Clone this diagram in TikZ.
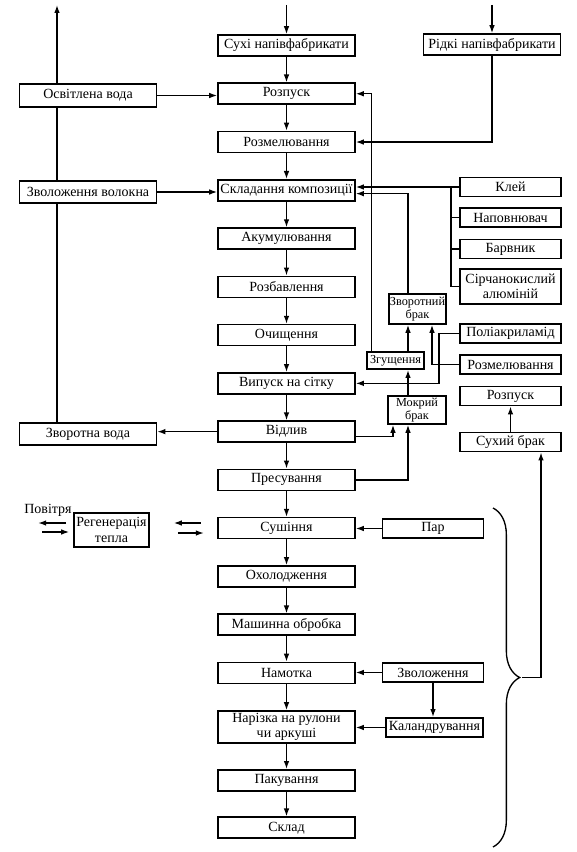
\documentclass[tikz,border=0pt]{standalone}
\usepackage{fontspec}
\setmainfont{Liberation Serif}
\usetikzlibrary{arrows.meta,positioning,calc,decorations.pathreplacing}

\begin{document}
\begin{tikzpicture}[x=0.75pt,y=-0.75pt,node distance=36.2pt,
  >={Latex[length=6pt,width=4.2pt]},
  every node/.style={font=\fontsize{10.5}{11.5}\selectfont},
  line/.style={line width=1pt},
  proc/.style={draw,line width=1.2pt,minimum width=102.75pt,minimum height=15.75pt,inner sep=1pt,align=center},
  side/.style={proc,minimum width=75.75pt,minimum height=14.5pt},
  small/.style={proc,minimum width=42.75pt,minimum height=13pt,inner sep=0.5pt,font=\fontsize{9.2}{10}\selectfont}]
  \useasboundingbox (0,0) rectangle (577,852);

  % main line
  \node[proc] (suhi) at (286.5,45.5) {Сухі напівфабрикати};
  \node[proc] (rozp) [below of=suhi] {Розпуск};
  \node[proc] (rozm) [below of=rozp] {Розмелювання};
  \node[proc] (sklad) [below of=rozm] {Складання композиції};
  \node[proc] (akum) [below of=sklad] {Акумулювання};
  \node[proc] (rozb) [below of=akum] {Розбавлення};
  \node[proc] (ochy) [below of=rozb] {Очищення};
  \node[proc] (vyp) [below of=ochy] {Випуск на сітку};
  \node[proc] (vidl) [below of=vyp] {Відлив};
  \node[proc] (pres) [below of=vidl] {Пресування};
  \node[proc] (sush) [below of=pres] {Сушіння};
  \node[proc] (ohol) [below of=sush] {Охолодження};
  \node[proc] (mash) [below of=ohol] {Машинна обробка};
  \node[proc] (namot) [below of=mash] {Намотка};
  \node[proc,minimum height=24pt] (nariz) [below of=namot,node distance=40.5pt] {Нарізка на рулони\\чи аркуші};
  \node[proc] (pakuv) [below of=nariz,node distance=40pt] {Пакування};
  \node[proc] (skl) [below of=pakuv,node distance=35.6pt] {Склад};

  % water
  \node[proc,minimum height=17pt] (osvv) at (88,95.5) {Освітлена вода};
  \node[proc,minimum height=16.5pt] (zvolv) at (88,192) {Зволоження волокна};
  \node[proc,minimum height=16.5pt] (zvorv) at (88,434) {Зворотна вода};

  % right side
  \node[proc] (ridki) at (492,44.5) {Рідкі напівфабрикати};
  \node[side] (klei) at (510.5,187) {Клей};
  \node[side] (napov) at (510.5,217.5) {Наповнювач};
  \node[side] (barv) at (510.5,249) {Барвник};
  \node[side,minimum height=26pt] (sirch) at (510.5,286.5) {Сірчанокислий\\алюміній};
  \node[side] (polia) at (510.5,333.5) {Поліакриламід};
  \node[side] (rozm2) at (510.5,364.5) {Розмелювання};
  \node[side] (rozp2) at (510.5,396) {Розпуск};
  \node[side] (suhbr) at (510.5,442) {Сухий брак};

  % broke
  \node[small,minimum height=22.5pt] (zvbr) at (417.5,309) {Зворотний\\брак};
  \node[small] (zgush) at (395.5,360.5) {Згущення};
  \node[small,minimum height=21pt,minimum width=43.5pt] (mokb) at (417,410) {Мокрий\\брак};

  \node[side] (par) at (433,528.5) {Пар};
  \node[side] (zvol) at (433,672.5) {Зволоження};
  \node[side,minimum width=72.75pt] (kal) at (434.5,727.5) {Каландрування};

  \node[proc,minimum width=56.25pt,minimum height=25.5pt] (regen) at (111.5,530) {Регенерація\\тепла};
  \node (povitr) at (48,510) {Повітря};

  \coordinate (intop) at (286.5,5);
  \coordinate (ridtop) at (492,5);
  \coordinate (wout) at (57,5);
  \coordinate (bus) at (451,0);
  \coordinate (bx) at (408,0);
  \coordinate (px) at (439,0);
  \coordinate (rx) at (432,0);
  \coordinate (mx) at (393,0);
  \coordinate (sx) at (541,0);
  \coordinate (brtop) at (493,508);
  \coordinate (brbot) at (493,847);
  \coordinate (brtip) at (522,677.5);

  \path[->,line]
  (intop) edge (suhi)
  (ridtop) edge (ridki)
  (suhi) edge (rozp)
  (rozp) edge (rozm)
  (rozm) edge (sklad)
  (sklad) edge (akum)
  (akum) edge (rozb)
  (rozb) edge (ochy)
  (ochy) edge (vyp)
  (vyp) edge (vidl)
  (vidl) edge (pres)
  (pres) edge (sush)
  (sush) edge (ohol)
  (ohol) edge (mash)
  (mash) edge (namot)
  (namot) edge (nariz)
  (nariz) edge (pakuv)
  (pakuv) edge (skl);

  % water loop
  \draw[line] (zvorv.north -| wout) -- (zvolv.south -| wout);
  \draw[line] (zvolv.north -| wout) -- (osvv.south -| wout);
  \draw[->,line] (osvv.north -| wout) -- (wout);
  \draw[->,line] (osvv) -- (osvv -| rozp.west);
  \draw[->,line] (zvolv) -- (zvolv -| sklad.west);
  \draw[->,line] (vidl) -- (vidl -| zvorv.east);

  \draw[->,line] (ridki) |- (rozm);
  \draw[->,line] ([xshift=3.75pt]zgush.north west) |- (rozp);
  \draw[->,line] (mokb.north -| bx) -- (zgush.south -| bx);
  \draw[->,line] (zgush.north -| bx) -- (zvbr.south -| bx);
  \draw[->,line] (zvbr.north -| bx) |- ([yshift=-2.5pt]sklad.east);

  % additives
  \draw[->,line] (klei) -- (klei -| sklad.east);
  \draw[line] (klei.west -| bus) |- (sirch);
  \draw[line] (napov) -- (napov -| bus);
  \draw[line] (barv) -- (barv -| bus);
  \draw[->,line] (polia) -| (px |- vyp) -- (vyp);
  \draw[->,line] (rozm2) -| (zvbr.south -| rx);

  \draw[->,line] (suhbr) -- (rozp2);
  \draw[->,line] ([yshift=-3.75pt]vidl.east) -| (mokb.south -| mx);
  \draw[->,line] (pres) -| (mokb.south -| bx);

  \draw[->,line] (par) -- (par -| sush.east);
  \draw[->,line] (zvol) -- (zvol -| namot.east);
  \draw[->,line] (zvol) -- (zvol |- kal.north);
  \draw[->,line] (kal) -- (kal -| nariz.east);

  % dry broke
  \draw[line,decorate,decoration={brace,amplitude=20pt}] (brtop) -- (brbot);
  \draw[->,line] (brtip) -| (sx |- suhbr.south);

  % air
  \draw[->,line] ($(regen.west)+(-7,-7)$) -- ++(-28,0);
  \draw[<-,line] ($(regen.west)+(-4,2)$) -- ++(-27,0);
  \draw[<-,line] ($(regen.east)+(24,-7)$) -- ++(27,0);
  \draw[->,line] ($(regen.east)+(28,3)$) -- ++(26,0);
\end{tikzpicture}
\end{document}
